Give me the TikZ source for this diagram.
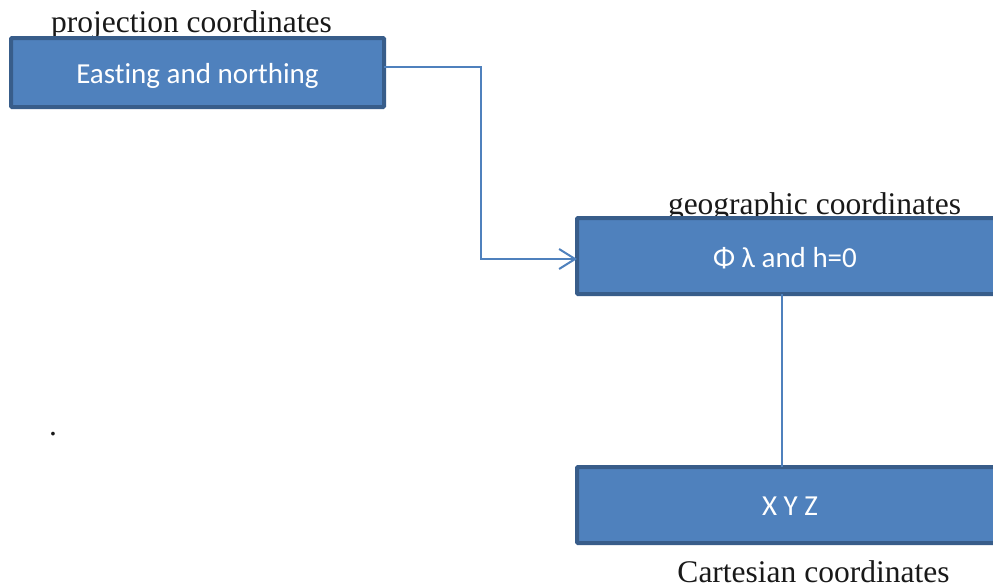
\documentclass[tikz,border=0pt]{standalone}
\usepackage{fontspec}
\setmainfont{Liberation Serif}
\newfontfamily\boxfont[Ligatures=NoCommon]{Carlito}
\usetikzlibrary{arrows.meta}
\definecolor{boxfill}{HTML}{4F81BD}
\definecolor{boxline}{HTML}{385D8A}
\tikzset{
  blockbox/.style={draw=boxline, fill=boxfill, line width=4pt, rounded corners=1pt,
    inner sep=0pt, outer sep=0pt},
  boxtext/.style={text=white, font=\boxfont\fontsize{29}{33}\selectfont, inner sep=0pt},
  caption/.style={font=\fontsize{31.5}{35}\selectfont, anchor=base, inner sep=0pt, text=black!90},
  conn/.style={draw=boxfill, line width=2pt},
}
\begin{document}
\begin{tikzpicture}[x=1pt,y=-1pt]
\clip (0,0) rectangle (993,587);
\fill[white] (0,0) rectangle (993,587);
% captions (drawn first; boxes cover their descenders)
\node[caption] (capA) at (191.5,32) {projection coordinates};
\node[caption] (capB) at (814.5,214) {geographic coordinates};
\node[caption] (capC) at (813.5,582) {Cartesian coordinates};
\node[caption] (dot) at (53,435) {.};
% boxes
\node[blockbox, minimum width=373, minimum height=69] (box1) at (197.5,72.5) {};
\node[boxtext, anchor=base] (t1) at (197.5,83) {Easting and northing};
\node[blockbox, minimum width=420, minimum height=76] (box2) at (787,256) {};
\node[boxtext, anchor=base] (t2) at (785,267) {Φ λ and h=0};
\node[blockbox, minimum width=440, minimum height=76] (box3) at (797,505) {};
\node[boxtext, anchor=base] (t3) at (790,515) {X Y Z};
% connectors
\coordinate (bend) at (481,67);
\draw[conn, -{Straight Barb[length=16pt,width=20pt,line width=2pt]}]
  ([yshift=5.5pt]box1.east) -- (bend) |- ([yshift=-3pt]box2.west);
\draw[conn] (box2.south -| 782,0) -- (box3.north -| 782,0);
\end{tikzpicture}
\end{document}
